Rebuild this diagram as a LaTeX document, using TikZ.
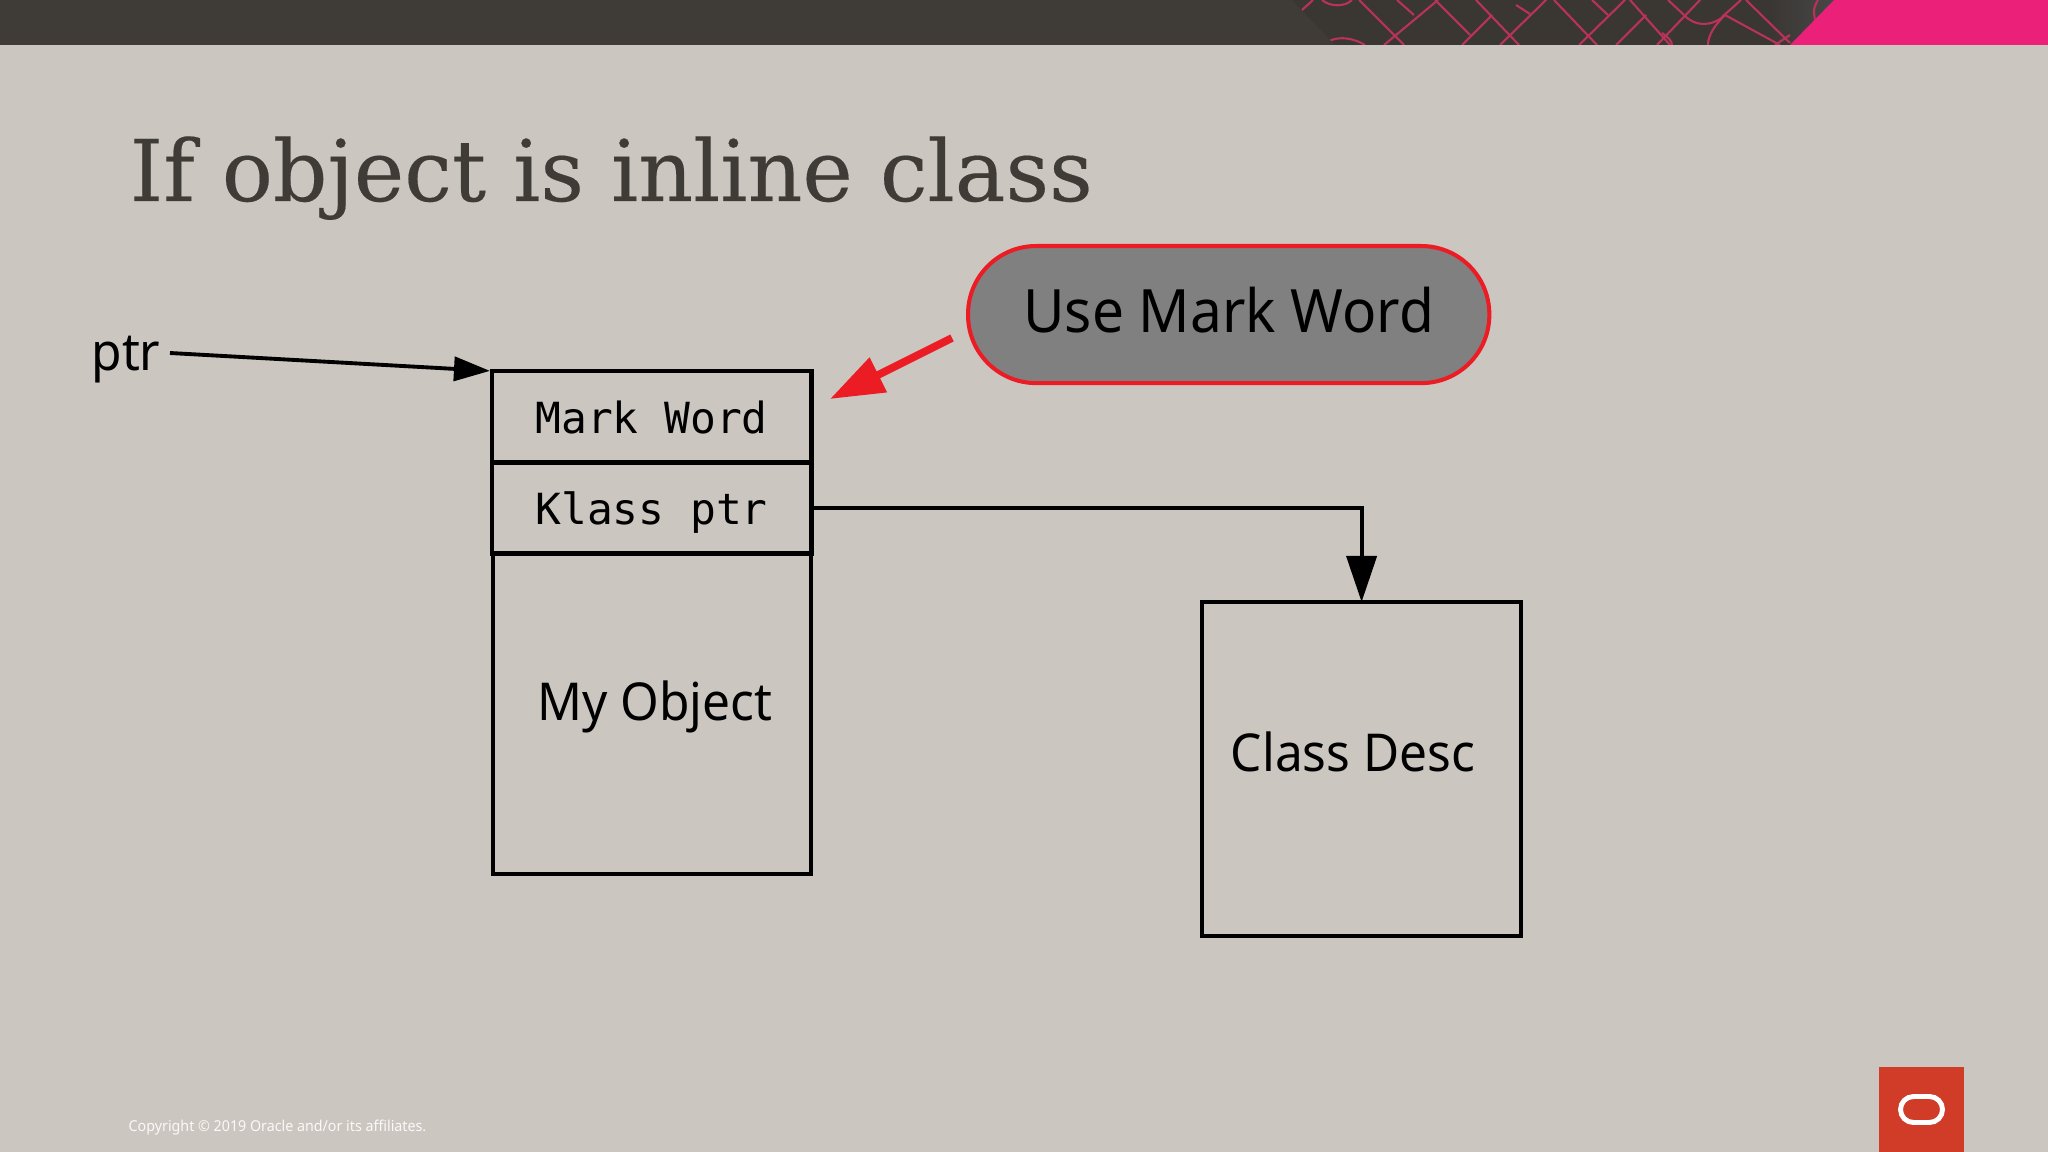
\documentclass[tikz,border=0pt]{standalone}
\usepackage{fontspec}
\setmainfont[FakeStretch=0.95]{Noto Sans}
\setmonofont{DejaVu Sans Mono}
\newfontfamily\titlefont[FakeBold=0.2]{DejaVu Serif}
\usetikzlibrary{arrows.meta,positioning}

\definecolor{slidebg}{HTML}{CBC6C0}
\definecolor{headerdark}{HTML}{3F3B37}
\definecolor{headerpink}{HTML}{EA2079}
\definecolor{patternred}{HTML}{B8325A}
\definecolor{calloutred}{HTML}{EC1C24}
\definecolor{logored}{HTML}{D03C27}

\tikzset{
  memcell/.style={draw=black,line width=1.4pt,minimum width=3.19cm,minimum height=0.91cm,inner sep=0pt,outer sep=0pt,text height=0.33cm,text depth=0pt,font=\ttfamily\fontsize{12.2}{15}\selectfont},
  membox/.style={draw=black,line width=1pt,anchor=north west,inner sep=0pt,outer sep=0pt},
  memlink/.style={draw=black,line width=1.1pt},
  plainlabel/.style={font=\fontsize{14.85}{17}\selectfont}
}

\begin{document}
\begin{tikzpicture}[x=0.01cm,y=-0.01cm]
  \path[use as bounding box] (0,0) rectangle (2048,1152);
  \fill[slidebg] (0,0) rectangle (2048,1152);

  % header band
  \fill[headerdark] (0,0) rectangle (2048,45);
  \begin{scope}
    \clip (1292,0) -- (1335,45) -- (1790,45) -- (1834,0) -- cycle;
    \fill[headerdark!92!black] (1292,0) rectangle (1834,45);
    \shade[left color=headerdark!92!black,right color=black!72] (1770,0) rectangle (1834,45);
    \foreach \xa/\ya/\xb/\yb in {1359/0/1404/45,1438/0/1384/45,1397/0/1414/15,1435/0/1470/35,
        1492/15/1462/45,1476/0/1519/45,1546/0/1500/45,1516/5/1530/14,1554/0/1597/45,1625/0/1579/45,
        1592/0/1608/15,1646/15/1616/45,1630/0/1670/45,1700/0/1657/45,1668/0/1684/15,1741/0/1722/17,
        1725/15/1780/45,1746/0/1790/43,1790/35/1775/45,1313/0/1302/10} {
      \draw[patternred,line width=0.6pt] (\xa,\ya) -- (\xb,\yb);
    }
    \draw[patternred,line width=0.6pt] (1322,0) .. controls (1330,7) and (1345,7) .. (1352,0);
    \draw[patternred,line width=0.6pt] (1324,45) .. controls (1332,36) and (1350,36) .. (1365,45);
    \draw[patternred,line width=0.6pt] (1684,15) .. controls (1695,27) and (1712,27) .. (1725,15);
    \draw[patternred,line width=0.6pt] (1725,15) .. controls (1715,25) and (1708,35) .. (1708,45);
    \draw[patternred,line width=0.6pt] (1662,33) .. controls (1668,37) and (1672,41) .. (1672,45);
    \draw[patternred,line width=0.6pt] (1818,0) .. controls (1813,8) and (1813,14) .. (1816,22);
  \end{scope}
  \fill[headerpink] (1834,0) -- (1790,45) -- (2048,45) -- (2048,0) -- cycle;

  % title
  \node[anchor=base west,inner sep=0pt,text=headerdark,font=\titlefont\fontsize{24.2}{28}\selectfont] (title) at (129,201) {If object is inline class};

  % object layout
  \node[memcell,anchor=north west] (mark) at (492,371) {Mark Word};
  \node[memcell,below=0pt of mark] (klass) {Klass ptr};
  \node[membox,minimum width=3.18cm,minimum height=3.21cm] (object) at (493,553) {};
  \node[plainlabel] (objectlabel) at (655,707) {My Object};

  % class descriptor
  \node[membox,minimum width=3.19cm,minimum height=3.34cm] (classdesc) at (1202,602) {};
  \node[plainlabel] (classlabel) at (1353,752) {Class Desc};

  % labels and links
  \node[plainlabel] (ptr) at (126,360) {ptr};
  \node[draw=calloutred,fill=black!50,line width=1.15pt,rounded corners=0.68cm,minimum width=5.21cm,minimum height=1.37cm,anchor=north west,font=\fontsize{17}{20}\selectfont] (callout) at (966,244) {\raisebox{0.09cm}{Use Mark Word}};

  \coordinate (ptrstart) at (170,353);
  \coordinate (calloutstart) at (952,338);
  \coordinate (calloutend) at (830,399);
  \draw[memlink,shorten >=0.02cm,-{Triangle[length=0.36cm,width=0.24cm]}] (ptrstart) -- (mark.north west);
  \draw[memlink,-{Triangle[length=0.46cm,width=0.30cm]}] (klass.east) -| (classdesc.north);
  \draw[calloutred,line width=2.2pt,-{Triangle[length=0.54cm,width=0.37cm]}] (calloutstart) -- (calloutend);

  % footer
  \node[anchor=base west,inner sep=0pt,text=white!90!slidebg,font=\fontsize{4.27}{6}\selectfont] (copyright) at (128,1131) {Copyright © 2019 Oracle and/or its affiliates.};
  \fill[logored] (1879,1067) rectangle (1964,1152);
  \draw[white,line width=1.4pt,rounded corners=0.13cm] (1900.5,1096.5) rectangle (1942.5,1122.5);
\end{tikzpicture}
\end{document}
